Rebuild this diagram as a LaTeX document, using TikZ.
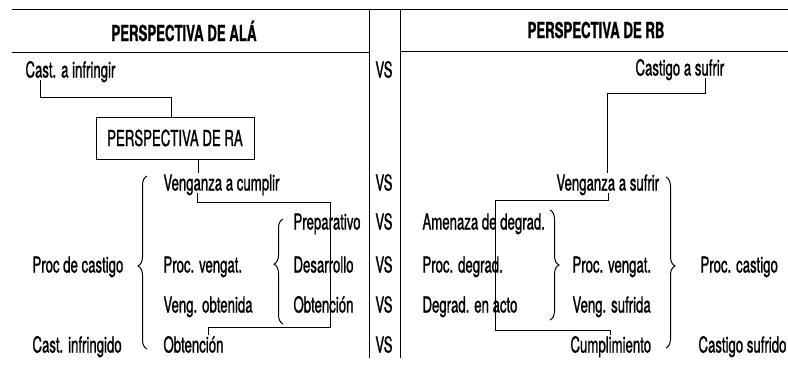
\documentclass[tikz,border=0pt]{standalone}
\usepackage{fontspec}
\setmainfont{TeX Gyre Heros}[FakeStretch=0.6, FakeBold=1]
\usetikzlibrary{decorations.pathreplacing}

\begin{document}
\begin{tikzpicture}[x=1pt, y=-1pt, line width=1pt,
  font=\fontsize{22}{26}\selectfont,
  txt/.style={inner sep=0pt, text height=17pt, text depth=2pt, anchor=west},
  vs/.style={inner sep=0pt, text height=17pt, text depth=2pt},
  ttl/.style={inner sep=0pt, font=\fontsize{22}{26}\selectfont\bfseries},
  lbrace/.style={decorate, decoration={brace, mirror, amplitude=9pt, aspect=#1}},
  rbrace/.style={decorate, decoration={brace, amplitude=9pt, aspect=#1}}]
\useasboundingbox (0,0) rectangle (788,365);
\draw (12,9) -- (788,9);
\draw (12,52) -- (369,52);
\draw (400,51) -- (788,51);
\draw (369,9) -- (369,358);
\draw (400,9) -- (400,358);

\node[ttl] (hdA) at (184,31) {PERSPECTIVA DE ALÁ};
\node[ttl] (hdB) at (596,30) {PERSPECTIVA DE RB};

\node[vs] (vs1) at (384,70) {VS};
\node[vs] (vs2) at (384,183) {VS};
\node[vs] (vs3) at (384,222) {VS};
\node[vs] (vs4) at (384,265) {VS};
\node[vs] (vs5) at (384,305) {VS};
\node[vs] (vs6) at (384,345) {VS};

\node[txt] (cai) at (25,70) {Cast. a infringir};
\node[draw, minimum width=158pt, minimum height=42pt, inner sep=0pt]
    (box) at (175,138) {PERSPECTIVA DE RA};
\node[txt] (vac) at (163,183) {Venganza a cumplir};
\node[txt] (pdc) at (32,265) {Proc de castigo};
\node[txt] (cin) at (32,345) {Cast. infringido};
\node[txt] (pvg) at (163,265) {Proc. vengat.};
\node[txt] (vob) at (163,305) {Veng. obtenida};
\node[txt] (obt2) at (163,345) {Obtención};
\node[txt] (pre) at (293,222) {Preparativo};
\node[txt] (des) at (293,265) {Desarrollo};
\node[txt] (obt1) at (293,305) {Obtención};

\node[txt] (cas) at (635,68) {Castigo a sufrir};
\node[txt] (vas) at (556,183) {Venganza a sufrir};
\node[txt] (amd) at (422,222) {Amenaza de degrad.};
\node[txt] (pdg) at (422,265) {Proc. degrad.};
\node[txt] (dea) at (422,305) {Degrad. en acto};
\node[txt] (pvr) at (572,265) {Proc. vengat.};
\node[txt] (vsu) at (572,305) {Veng. sufrida};
\node[txt] (cum) at (570,345) {Cumplimiento};
\node[txt] (pca) at (700,265) {Proc. castigo};
\node[txt] (csu) at (698,345) {Castigo sufrido};

\draw ([xshift=15pt]cai.south west) |- (171,97) -- (171,0 |- box.north);
\draw (box.south -| 198,0) -- (198,0 |- vac.north);
\draw ([xshift=34pt]vac.south west) |- (330,202) -- (330,327)
    -| ([xshift=45pt]obt2.north west);
\draw ([xshift=70pt]cas.south west) |- (607,93) -- (607,0 |- vas.north);
\draw (608,0 |- vas.south) |- (495,200) -- (495,330) -| (610,0 |- cum.north);

\draw[lbrace=0.52] (147,176) -- (147,349);
\draw[lbrace=0.43] (283,219) -- (283,324);
\draw[rbrace=0.5] (550,210) -- (550,320);
\draw[rbrace=0.52] (666,177) -- (666,348);
\end{tikzpicture}
\end{document}
